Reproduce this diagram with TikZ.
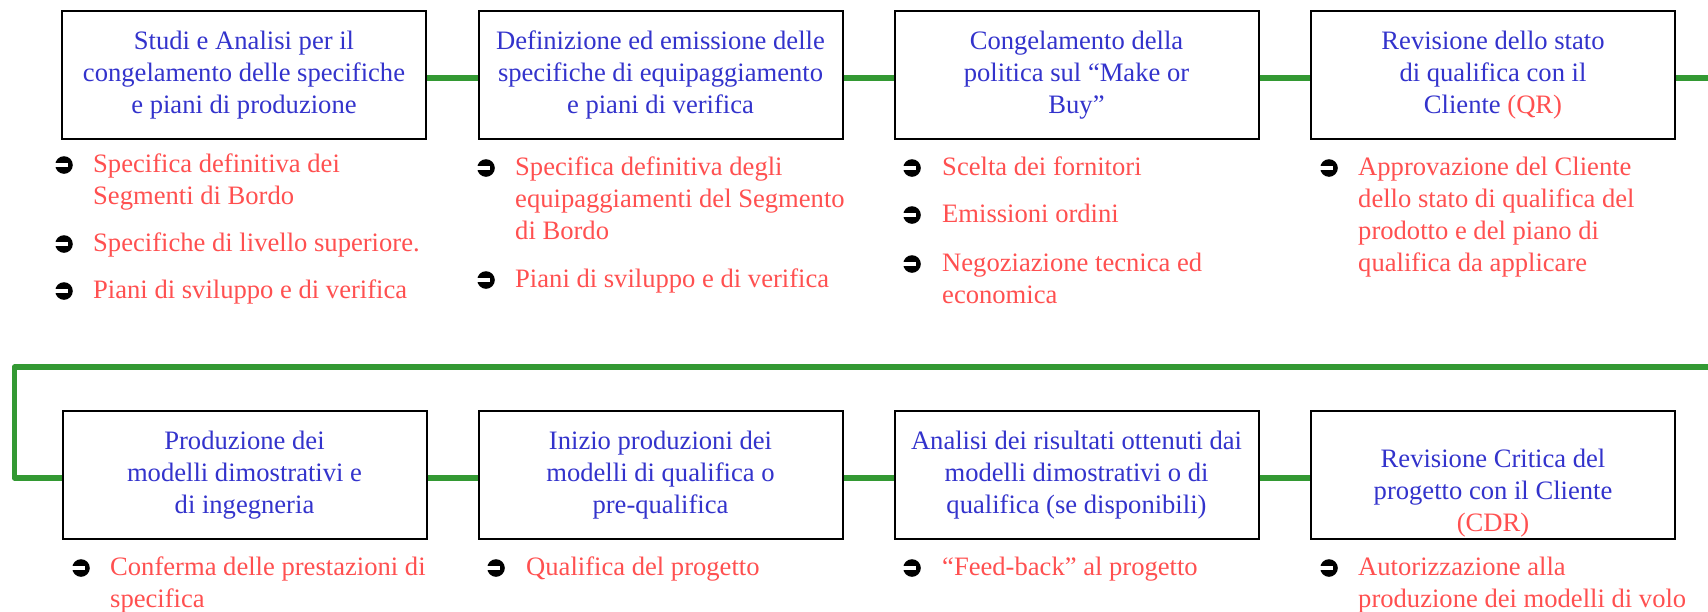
\documentclass[tikz,border=0pt]{standalone}
\usepackage{fontspec}
\setmainfont{Liberation Serif}
\definecolor{boxblue}{HTML}{3333CC}
\definecolor{itemred}{HTML}{FF5050}
\definecolor{linkgreen}{HTML}{339933}
\newcommand\diagfont{\fontsize{26.6}{32}\selectfont}
\begin{document}
\begin{tikzpicture}[x=1pt,y=-1pt,
  box/.style={draw=black, line width=2pt, minimum width=364pt, minimum height=128pt,
    inner sep=0pt, align=center, text=boxblue, font=\diagfont, fill=white},
  link/.style={draw=linkgreen, line width=5.5pt, line join=round},
  itemtext/.style={anchor=base west, align=left, text=itemred, font=\diagfont, inner sep=0pt},
  bulletmark/.pic={\fill[black] (9,-7) circle (8.8); \fill[white] (-0.5,-9) rectangle (12.5,-5);}
]
\useasboundingbox (0,0) rectangle (1708,611);

% ---- top row boxes
\node[box] (b1) at (244,75) {Studi e Analisi per il\\congelamento delle specifiche\\e piani di produzione};
\node[box] (b2) at (660.5,75) {Definizione ed emissione delle\\specifiche di equipaggiamento\\e piani di verifica};
\node[box] (b3) at (1076.5,75) {Congelamento della\\politica sul “Make or\\Buy”};
\node[box] (b4) at (1493,75) {Revisione dello stato\\di qualifica con il\\Cliente \textcolor{itemred}{(QR)}};

% ---- bottom row boxes
\node[box] (b5) at (244.5,475) {Produzione dei\\modelli dimostrativi e\\di ingegneria};
\node[box] (b6) at (660.5,475) {Inizio produzioni dei\\modelli di qualifica o\\pre-qualifica};
\node[box] (b7) at (1076.5,475) {Analisi dei risultati ottenuti dai\\modelli dimostrativi o di\\qualifica (se disponibili)};
\node[box] (b8) at (1493,475) {\strut\\Revisione Critica del\\progetto con il Cliente\\\textcolor{itemred}{(CDR)}};

% ---- connectors
\coordinate (tr) at (1708,78);
\coordinate (br) at (1708,367);
\coordinate (bl) at (14.5,367);
\draw[link] ([yshift=-3pt]b1.east) -- ([yshift=-3pt]b2.west);
\draw[link] ([yshift=-3pt]b2.east) -- ([yshift=-3pt]b3.west);
\draw[link] ([yshift=-3pt]b3.east) -- ([yshift=-3pt]b4.west);
\draw[link] ([yshift=-3pt]b4.east) -- (tr);
\draw[link] (br) -- (bl) |- ([yshift=-3pt]b5.west);
\draw[link] ([yshift=-3pt]b5.east) -- ([yshift=-3pt]b6.west);
\draw[link] ([yshift=-3pt]b6.east) -- ([yshift=-3pt]b7.west);
\draw[link] ([yshift=-3pt]b7.east) -- ([yshift=-3pt]b8.west);

% ---- top row items (node anchor = baseline of the last line)
\pic at (55,172) {bulletmark};
\node[itemtext] (t1a) at (93,204) {Specifica definitiva dei\\Segmenti di Bordo};
\pic at (55,251) {bulletmark};
\node[itemtext] (t1b) at (93,251) {Specifiche di livello superiore.};
\pic at (55,298) {bulletmark};
\node[itemtext] (t1c) at (93,298) {Piani di sviluppo e di verifica};

\pic at (477,175) {bulletmark};
\node[itemtext] (t2a) at (515,239) {Specifica definitiva degli\\equipaggiamenti del Segmento\\di Bordo};
\pic at (477,287) {bulletmark};
\node[itemtext] (t2b) at (515,287) {Piani di sviluppo e di verifica};

\pic at (903,175) {bulletmark};
\node[itemtext] (t3a) at (942,175) {Scelta dei fornitori};
\pic at (903,222) {bulletmark};
\node[itemtext] (t3b) at (942,222) {Emissioni ordini};
\pic at (903,271) {bulletmark};
\node[itemtext] (t3c) at (942,303) {Negoziazione tecnica ed\\economica};

\pic at (1320,175) {bulletmark};
\node[itemtext] (t4a) at (1358,271) {Approvazione del Cliente\\dello stato di qualifica del\\prodotto e del piano di\\qualifica da applicare};

% ---- bottom row items
\pic at (72,575) {bulletmark};
\node[itemtext] (t5a) at (110,607) {Conferma delle prestazioni di\\specifica};
\pic at (487,575) {bulletmark};
\node[itemtext] (t6a) at (526,575) {Qualifica del progetto};
\pic at (903,575) {bulletmark};
\node[itemtext] (t7a) at (942,575) {“Feed-back” al progetto};
\pic at (1320,575) {bulletmark};
\node[itemtext] (t8a) at (1358,607) {Autorizzazione alla\\produzione dei modelli di volo};
\end{tikzpicture}
\end{document}
